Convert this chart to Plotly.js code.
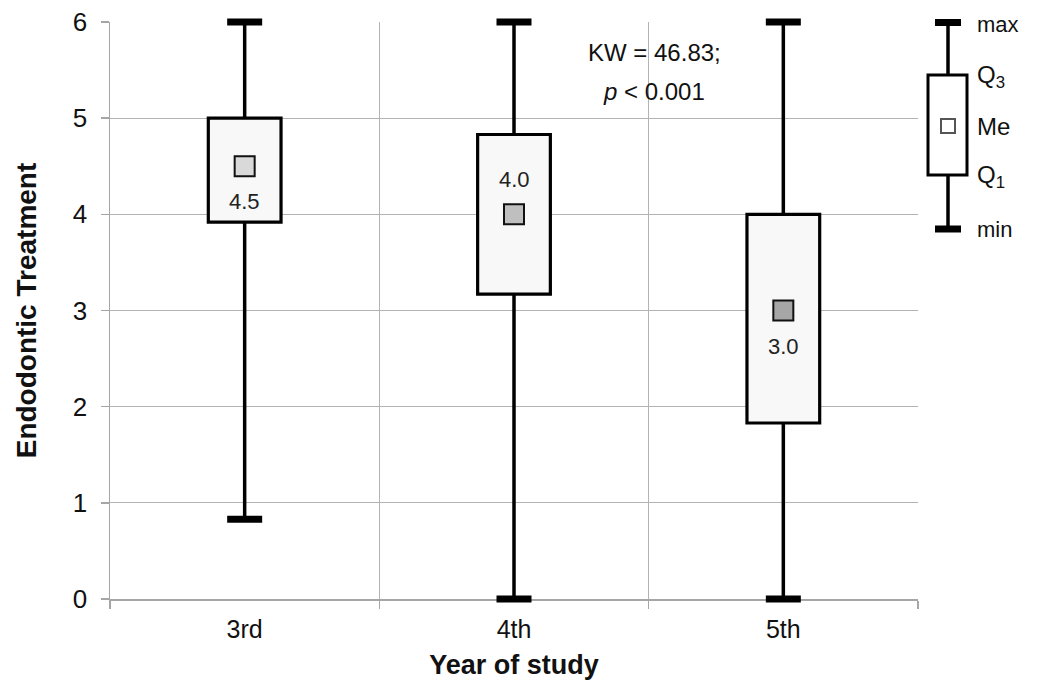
<!DOCTYPE html>
<html>
<head>
<meta charset="utf-8">
<script src="https://cdn.plot.ly/plotly-3.0.1.min.js"></script>
<style>html,body{margin:0;padding:0;background:#fff;}#chart{width:1038px;height:681px;}</style>
</head>
<body>
<div id="chart"></div>
<script>
// ---- data ----
const categories = ['3rd', '4th', '5th'];
const minVals = [0.83, 0, 0];
const q1Vals = [3.92, 3.17, 1.83];
const medians = [4.5, 4.0, 3.0];
const q3Vals = [5.0, 4.83, 4.0];
const maxVals = [6, 6, 6];
const medianLabels = ['4.5', '4.0', '3.0'];
const yTickVals = [0, 1, 2, 3, 4, 5, 6];
const legendLabels = ['max', 'Q<sub>3</sub>', 'Me', 'Q<sub>1</sub>', 'min'];
const statLine1 = 'KW = 46.83;';
const statLine2 = '<i>p</i> &lt; 0.001';

// ---- styles ----
const FONT = 'Liberation Sans, Arial, sans-serif';
const medianColors = ['#d9d9d9', '#bfbfbf', '#a6a6a6'];
const labelShift = [-35, 35, -36];
const boxHalf = 0.135;

// plot area in px (for the key drawn outside the plot)
const L = 110, R = 918, T = 22, B = 599;
const px2x = p => (p - L) / (R - L);
const py2y = p => (B - p) / (B - T);

const shapes = [];
const annotations = [];

categories.forEach((c, i) => {
  shapes.push({type: 'line', xref: 'x', yref: 'y', x0: i, x1: i, y0: q3Vals[i], y1: maxVals[i],
    line: {color: '#000', width: 3.5}, layer: 'between'});
  shapes.push({type: 'line', xref: 'x', yref: 'y', x0: i, x1: i, y0: minVals[i], y1: q1Vals[i],
    line: {color: '#000', width: 3.5}, layer: 'between'});
  shapes.push({type: 'rect', xref: 'x', yref: 'y', x0: i - boxHalf, x1: i + boxHalf,
    y0: q1Vals[i], y1: q3Vals[i], fillcolor: '#f8f8f8', line: {color: '#000', width: 3.2}, layer: 'between'});
  annotations.push({x: c, y: medians[i], xref: 'x', yref: 'y', text: medianLabels[i], showarrow: false,
    yshift: labelShift[i], font: {family: FONT, size: 22, color: '#222'}});
});

// statistic annotation
annotations.push({xref: 'paper', yref: 'paper', x: px2x(654), y: py2y(53), text: statLine1, showarrow: false,
  xanchor: 'center', yanchor: 'middle', font: {family: FONT, size: 24, color: '#111'}});
annotations.push({xref: 'paper', yref: 'paper', x: px2x(654), y: py2y(91), text: statLine2, showarrow: false,
  xanchor: 'center', yanchor: 'middle', font: {family: FONT, size: 24, color: '#111'}});

// ---- key (outside plot, right) ----
const kx = 948;
const kY = [22.5, 75, 126, 175, 229]; // max, Q3, Me, Q1, min rows
shapes.push({type: 'line', xref: 'paper', yref: 'paper', x0: px2x(kx), x1: px2x(kx), y0: py2y(kY[0]), y1: py2y(kY[1]),
  line: {color: '#000', width: 3.5}});
shapes.push({type: 'line', xref: 'paper', yref: 'paper', x0: px2x(kx), x1: px2x(kx), y0: py2y(kY[3]), y1: py2y(kY[4]),
  line: {color: '#000', width: 3.5}});
shapes.push({type: 'line', xref: 'paper', yref: 'paper', x0: px2x(kx - 13), x1: px2x(kx + 13), y0: py2y(kY[0]), y1: py2y(kY[0]),
  line: {color: '#000', width: 7}});
shapes.push({type: 'line', xref: 'paper', yref: 'paper', x0: px2x(kx - 13), x1: px2x(kx + 13), y0: py2y(kY[4]), y1: py2y(kY[4]),
  line: {color: '#000', width: 7}});
shapes.push({type: 'rect', xref: 'paper', yref: 'paper', x0: px2x(928), x1: px2x(967), y0: py2y(kY[3]), y1: py2y(kY[1]),
  fillcolor: '#fff', line: {color: '#000', width: 3}});
shapes.push({type: 'rect', xref: 'paper', yref: 'paper', x0: px2x(kx - 7), x1: px2x(kx + 7), y0: py2y(kY[2] + 7), y1: py2y(kY[2] - 7),
  fillcolor: '#fff', line: {color: '#555', width: 2}});
const keySizes = [22, 24, 24, 24, 22];
const keyDy = [2, 2, 0, 2, 1];
legendLabels.forEach((t, k) => {
  annotations.push({xref: 'paper', yref: 'paper', x: px2x(975), y: py2y(kY[k] + keyDy[k]), text: t, showarrow: false,
    xanchor: 'left', yanchor: 'middle', font: {family: FONT, size: keySizes[k], color: '#111'}});
});

const traces = [
  {type: 'scatter', mode: 'markers', x: categories, y: maxVals, cliponaxis: false, hoverinfo: 'skip',
    marker: {symbol: 'line-ew', size: 25, line: {color: '#000', width: 7}}},
  {type: 'scatter', mode: 'markers', x: categories, y: minVals, cliponaxis: false, hoverinfo: 'skip',
    marker: {symbol: 'line-ew', size: 25, line: {color: '#000', width: 7}}},
  {type: 'scatter', mode: 'markers', x: categories, y: medians, cliponaxis: false,
    marker: {symbol: 'square', size: 20, color: medianColors, line: {color: '#111', width: 2}}}
];

const layout = {
  width: 1038, height: 681,
  margin: {l: L, r: 1038 - R, t: T, b: 681 - B, pad: 0},
  paper_bgcolor: '#fff', plot_bgcolor: '#fff',
  showlegend: false,
  font: {family: FONT, color: '#111'},
  xaxis: {
    type: 'category', categoryorder: 'array', categoryarray: categories,
    range: [-0.5, 2.5], tickson: 'boundaries',
    showgrid: true, gridcolor: '#b3b3b3', gridwidth: 1,
    showline: true, linecolor: '#a6a6a6', linewidth: 1.5,
    ticks: 'outside', ticklen: 8, tickcolor: '#a6a6a6', tickwidth: 1.5,
    tickfont: {family: FONT, size: 25, color: '#111'},
    ticklabelstandoff: 7,
    layer: 'below traces',
    title: {text: '<b>Year of study</b>', font: {family: FONT, size: 27, color: '#111'}, standoff: 13},
    automargin: false, fixedrange: true
  },
  yaxis: {
    range: [0, 6], tickvals: yTickVals, ticktext: yTickVals.map(String),
    showgrid: true, gridcolor: '#b3b3b3', gridwidth: 1, zeroline: false,
    showline: true, linecolor: '#a6a6a6', linewidth: 1.5,
    ticks: 'outside', ticklen: 8, tickcolor: '#a6a6a6', tickwidth: 1.5,
    tickfont: {family: FONT, size: 26, color: '#111'},
    ticklabelstandoff: 8,
    layer: 'below traces',
    title: {text: '<b>Endodontic Treatment</b>', font: {family: FONT, size: 28, color: '#111'}, standoff: 28},
    automargin: false, fixedrange: true
  },
  shapes: shapes,
  annotations: annotations
};

Plotly.newPlot('chart', traces, layout, {displayModeBar: false, staticPlot: true});
</script>
</body>
</html>
